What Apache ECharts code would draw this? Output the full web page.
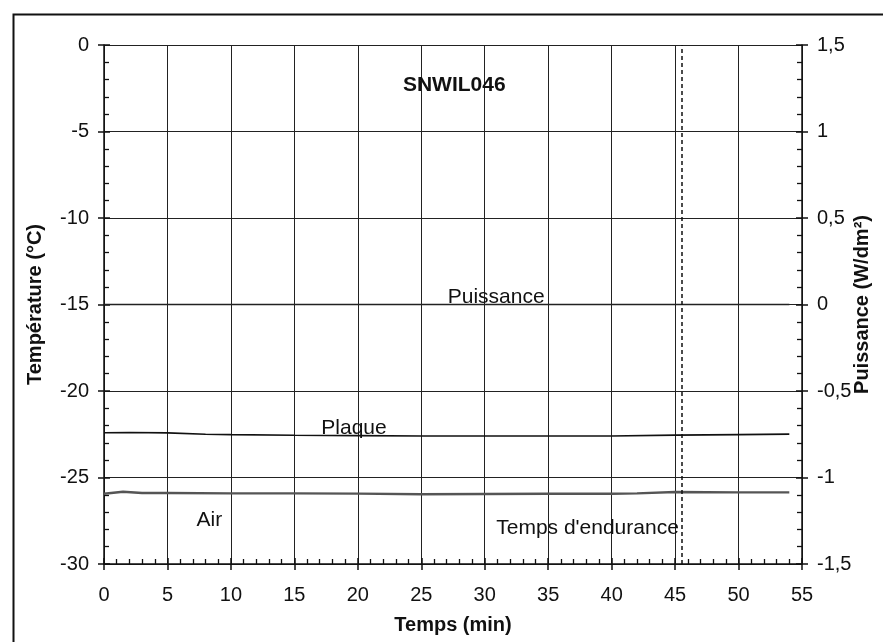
<!DOCTYPE html>
<html>
<head>
<meta charset="utf-8">
<script src="https://cdn.jsdelivr.net/npm/echarts@6/dist/echarts.min.js"></script>
<style>
html,body{margin:0;padding:0;background:#fff;}
#chart{width:883px;height:642px;}
</style>
</head>
<body>
<div id="chart"></div>
<script>
// Data (time in minutes)
const plaqueTime = [0, 2, 5, 8, 10, 15, 20, 25, 30, 35, 40, 45, 50, 54];
const plaqueTemp = [-22.41, -22.4, -22.42, -22.5, -22.52, -22.56, -22.58, -22.6, -22.6, -22.6, -22.6, -22.55, -22.52, -22.49];
const airTime = [0, 1.5, 3, 5, 10, 15, 20, 25, 30, 35, 40, 42, 45, 50, 54];
const airTemp = [-25.94, -25.82, -25.9, -25.9, -25.92, -25.92, -25.93, -25.97, -25.95, -25.94, -25.94, -25.92, -25.84, -25.86, -25.86];
const puissanceTime = [0, 54];
const puissanceValue = [0, 0];
const enduranceTime = 45.5;

const toPairs = (xs, ys) => xs.map((x, i) => [x, ys[i]]);

const chart = echarts.init(document.getElementById('chart'));
const font = 'Liberation Sans, Arial, sans-serif';
const axisText = {color: '#111', fontFamily: font, fontSize: 20};
const nameText = {color: '#111', fontFamily: font, fontSize: 20, fontWeight: 'bold'};
const gridPos = {left: 104, right: 81, top: 45, bottom: 78, containLabel: false, outerBoundsMode: 'none'};
const tickStyle = {color: '#111', width: 1.5};
const minor = {show: true, splitNumber: 5, length: 5, lineStyle: {color: '#111', width: 1.3}};

chart.setOption({
  animation: false,
  backgroundColor: '#fff',
  graphic: [{
    type: 'rect', left: 11, top: 12,
    shape: {width: 1000, height: 1000},
    style: {fill: 'none', stroke: '#111', lineWidth: 2}, z: -10
  }],
  grid: [Object.assign({}, gridPos), Object.assign({}, gridPos)],
  xAxis: [{
    gridIndex: 0, type: 'value', min: 0, max: 55, interval: 5,
    name: 'Temps (min)', nameLocation: 'middle', nameGap: 51, nameTextStyle: nameText, nameMoveOverlap: false,
    axisLine: {onZero: false, lineStyle: {color: '#111', width: 1.5}},
    axisTick: {inside: true, length: 6, lineStyle: tickStyle},
    minorTick: minor,
    axisLabel: Object.assign({margin: 21}, axisText),
    splitLine: {show: true, lineStyle: {color: '#222', width: 1}}
  }, {
    gridIndex: 1, type: 'value', min: 0, max: 55, interval: 5,
    axisLine: {show: false, onZero: false},
    axisTick: {show: true, inside: false, length: 6, lineStyle: tickStyle},
    axisLabel: {show: false}, splitLine: {show: false}
  }],
  yAxis: [{
    gridIndex: 0, type: 'value', min: -30, max: 0, interval: 5, position: 'left',
    name: 'Température (°C)', nameLocation: 'middle', nameGap: 59, nameRotate: 90, nameTextStyle: nameText, nameMoveOverlap: false,
    axisLine: {show: true, onZero: false, lineStyle: {color: '#111', width: 1.5}},
    axisTick: {show: true, inside: true, length: 6, lineStyle: tickStyle},
    minorTick: minor,
    axisLabel: Object.assign({margin: 15}, axisText),
    splitLine: {show: true, lineStyle: {color: '#222', width: 1}}
  }, {
    gridIndex: 0, type: 'value', min: -1.5, max: 1.5, interval: 0.5, position: 'right',
    name: 'Puissance (W/dm²)', nameLocation: 'middle', nameGap: 50, nameRotate: 90, nameTextStyle: nameText, nameMoveOverlap: false,
    axisLine: {show: true, onZero: false, lineStyle: {color: '#111', width: 1.5}},
    axisTick: {show: true, inside: true, length: 6, lineStyle: tickStyle},
    minorTick: minor,
    axisLabel: Object.assign({margin: 15, formatter: v => String(v).replace('.', ',')}, axisText),
    splitLine: {show: false}
  }, {
    gridIndex: 1, type: 'value', min: -30, max: 0, interval: 5, position: 'left',
    axisLine: {show: false, onZero: false},
    axisTick: {show: true, inside: false, length: 6, lineStyle: tickStyle},
    axisLabel: {show: false}, splitLine: {show: false}
  }, {
    gridIndex: 1, type: 'value', min: -1.5, max: 1.5, interval: 0.5, position: 'right',
    axisLine: {show: false, onZero: false},
    axisTick: {show: true, inside: false, length: 6, lineStyle: tickStyle},
    axisLabel: {show: false}, splitLine: {show: false}
  }],
  series: [{
    name: 'Plaque', type: 'line', xAxisIndex: 0, yAxisIndex: 0, showSymbol: false, symbol: 'none',
    data: toPairs(plaqueTime, plaqueTemp),
    lineStyle: {color: '#111', width: 1.6},
    markPoint: {
      symbol: 'circle', symbolSize: 0, silent: true,
      label: {show: true, position: 'inside', color: '#111', fontFamily: font, fontSize: 21},
      data: [
        {coord: [19.7, -22.14], value: 'Plaque', label: {formatter: 'Plaque'}},
        {coord: [27.6, -2.31], value: 'SNWIL046', label: {formatter: 'SNWIL046', fontWeight: 'bold', fontSize: 21}},
        {coord: [8.3, -27.45], value: 'Air', label: {formatter: 'Air'}},
        {coord: [38.1, -27.92], value: "Temps d'endurance", label: {formatter: "Temps d'endurance"}}
      ]
    },
    markLine: {
      symbol: 'none', silent: true, label: {show: false},
      lineStyle: {color: '#111', type: [4, 3], width: 1.5},
      data: [{xAxis: enduranceTime}]
    }
  }, {
    name: 'Air', type: 'line', xAxisIndex: 0, yAxisIndex: 0, showSymbol: false, symbol: 'none',
    data: toPairs(airTime, airTemp),
    lineStyle: {color: '#555', width: 2.4}
  }, {
    name: 'Puissance', type: 'line', xAxisIndex: 0, yAxisIndex: 1, showSymbol: false, symbol: 'none',
    data: toPairs(puissanceTime, puissanceValue),
    lineStyle: {color: '#222', width: 1.5},
    markPoint: {
      symbol: 'circle', symbolSize: 0, silent: true,
      label: {show: true, position: 'inside', color: '#111', fontFamily: font, fontSize: 21},
      data: [{coord: [30.9, 0.043], value: 'Puissance', label: {formatter: 'Puissance'}}]
    }
  }]
});
</script>
</body>
</html>
